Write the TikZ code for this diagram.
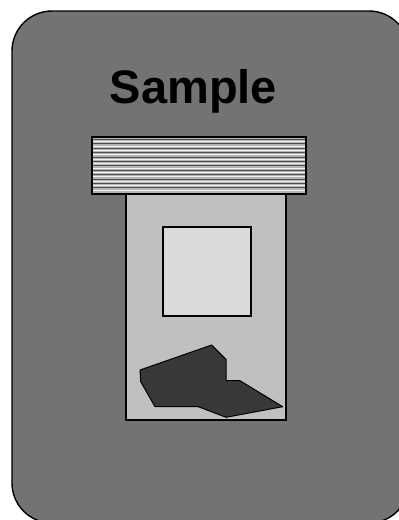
\documentclass[tikz,border=0pt]{standalone}
\usepackage{fontspec}
\setmainfont{Liberation Sans}
\definecolor{kasten}{HTML}{737373}
\definecolor{feld}{HTML}{C0C0C0}
\definecolor{quad}{HTML}{DADADA}
\definecolor{klumpen}{HTML}{383838}
\definecolor{streif}{HTML}{B4B4B4}
\definecolor{sdunkel}{HTML}{505050}
\tikzset{
  rahmen/.style={draw=black,line width=1.4pt},
  gehaeuse/.style={rahmen,fill=kasten,rounded corners=40pt},
  schlitz/.style={rahmen,fill=feld},
  fenster/.style={rahmen,fill=quad},
  probe/.style={draw=black,line width=1pt,fill=klumpen,line join=round},
  lamelle/.style={line width=1.1pt},
}

\begin{document}
\begin{tikzpicture}[x=1pt,y=-1pt]
  \useasboundingbox (0,0) rectangle (399,520);
  \clip (0,0) rectangle (399,520);
  % housing
  \draw[gehaeuse] (12,11) rectangle (409,523);
  \node[font=\bfseries\fontsize{47}{50}\selectfont,anchor=base] (titel) at (193.5,103) {Sample};
  % holder
  \draw[schlitz] (126,194) rectangle (286,420);
  \fill[streif] (92,137) rectangle (306,194);
  \foreach \y in {139.5,143.9,...,192} {
    \draw[lamelle,sdunkel] (92,\y) -- (306,\y);
    \draw[lamelle,white!90!gray] (92,\y+2.2) -- (306,\y+2.2);
  }
  \draw[rahmen] (92,137) rectangle (306,194);
  % window
  \draw[fenster] (163,227) rectangle (251,316);
  % specimen
  \draw[probe] (140,370) -- (211.7,345) -- (226,359.3) -- (226,380.7) -- (240,380.7)
    -- (282.7,406.7) -- (226,417.3) -- (198.3,406.7) -- (155,406.7) -- (140.7,381.7) -- cycle;
\end{tikzpicture}
\end{document}
